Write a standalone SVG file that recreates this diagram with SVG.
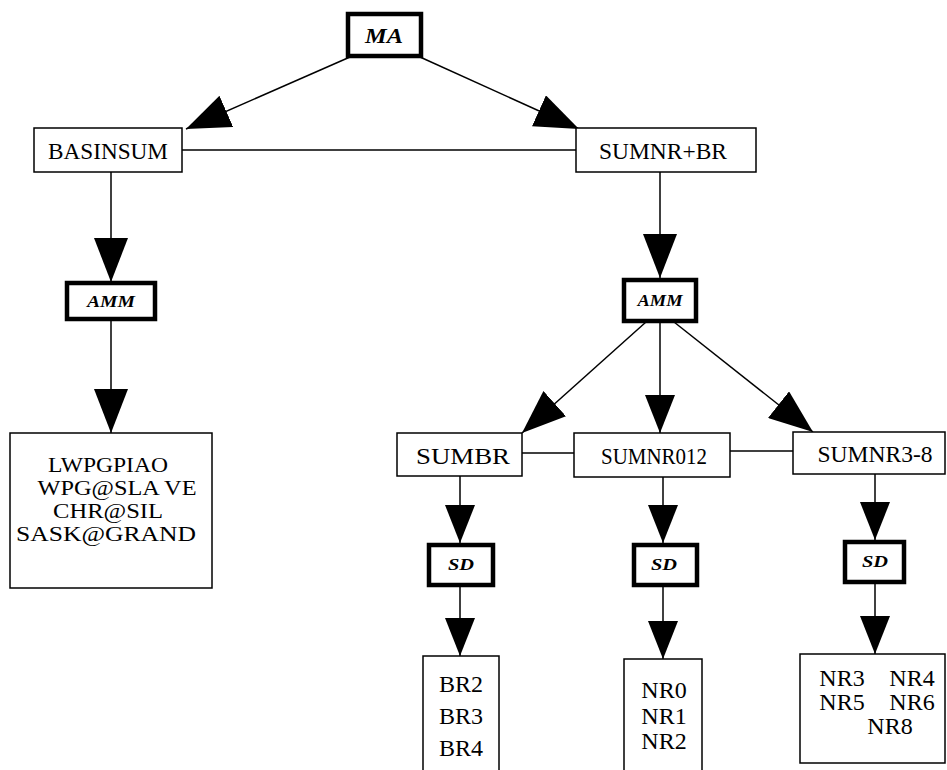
<svg xmlns="http://www.w3.org/2000/svg" width="947" height="770" viewBox="0 0 947 770">
<style>
.box{fill:#fff;stroke:#000;stroke-width:1.5}
.tbox{fill:#fff;stroke:#000;stroke-width:4.5}
.t{font-family:"Liberation Serif","Times New Roman",serif;font-size:24px;fill:#000;text-anchor:middle}
.s{font-size:20px}
.ti{font-family:"Liberation Serif","Times New Roman",serif;font-style:italic;font-weight:bold;fill:#000;text-anchor:middle}
.ln{stroke:#000;stroke-width:1.5;fill:none}
</style>
<defs>
<marker id="big" markerUnits="userSpaceOnUse" markerWidth="44" markerHeight="34" refX="44" refY="17" orient="auto" viewBox="0 0 44 34">
<path d="M0,0 L44,17 L0,34 z" fill="#000"/>
</marker>
<marker id="sm" markerUnits="userSpaceOnUse" markerWidth="38" markerHeight="30" refX="38" refY="15" orient="auto" viewBox="0 0 38 30">
<path d="M0,0 L38,15 L0,30 z" fill="#000"/>
</marker>
</defs>
<rect width="947" height="770" fill="#fff"/>
<g id="connectors">
<line class="ln" x1="350" y1="57" x2="186" y2="129" marker-end="url(#big)"/>
<line class="ln" x1="420" y1="57" x2="579" y2="129" marker-end="url(#big)"/>
<line class="ln" x1="182" y1="150" x2="576" y2="150"/>
<line class="ln" x1="111" y1="172" x2="111" y2="282" marker-end="url(#big)"/>
<line class="ln" x1="111" y1="320" x2="111" y2="433" marker-end="url(#big)"/>
<line class="ln" x1="660" y1="172" x2="660" y2="278" marker-end="url(#big)"/>
<line class="ln" x1="646" y1="322" x2="522" y2="433" marker-end="url(#big)"/>
<line class="ln" x1="660" y1="322" x2="660" y2="433" marker-end="url(#sm)"/>
<line class="ln" x1="674" y1="322" x2="813" y2="432" marker-end="url(#big)"/>
<line class="ln" x1="522" y1="453" x2="574" y2="453"/>
<line class="ln" x1="730" y1="451" x2="793" y2="451"/>
<line class="ln" x1="460" y1="476" x2="460" y2="543" marker-end="url(#sm)"/>
<line class="ln" x1="460" y1="585" x2="460" y2="656" marker-end="url(#sm)"/>
<line class="ln" x1="663" y1="477" x2="663" y2="543" marker-end="url(#sm)"/>
<line class="ln" x1="663" y1="585" x2="663" y2="659" marker-end="url(#sm)"/>
<line class="ln" x1="875" y1="474" x2="875" y2="540" marker-end="url(#sm)"/>
<line class="ln" x1="875" y1="583" x2="875" y2="654" marker-end="url(#sm)"/>
</g>
<g id="MA">
<rect class="tbox" x="348" y="14" width="73" height="42"/>
<text class="ti" x="384" y="43" font-size="21" textLength="38" lengthAdjust="spacingAndGlyphs">MA</text>
</g>
<g id="BASINSUM">
<rect class="box" x="34" y="128" width="148" height="44"/>
<text class="t" x="108" y="159" textLength="120" lengthAdjust="spacingAndGlyphs">BASINSUM</text>
</g>
<g id="SUMNR_BR">
<rect class="box" x="576" y="128" width="180" height="44"/>
<text class="t" x="663" y="159" textLength="128" lengthAdjust="spacingAndGlyphs">SUMNR+BR</text>
</g>
<g id="AMM_left">
<rect class="tbox" x="67" y="283" width="88" height="36"/>
<text class="ti" x="111" y="307" font-size="16" textLength="48" lengthAdjust="spacingAndGlyphs">AMM</text>
</g>
<g id="AMM_right">
<rect class="tbox" x="624" y="280" width="72" height="41"/>
<text class="ti" x="660" y="306" font-size="16" textLength="45" lengthAdjust="spacingAndGlyphs">AMM</text>
</g>
<g id="LWPG">
<rect class="box" x="10" y="433" width="202" height="155"/>
<text class="t s" x="108" y="472" textLength="120" lengthAdjust="spacingAndGlyphs">LWPGPIAO</text>
<text class="t s" x="117" y="495" textLength="159" lengthAdjust="spacingAndGlyphs">WPG@SLA VE</text>
<text class="t s" x="108" y="518" textLength="110" lengthAdjust="spacingAndGlyphs">CHR@SIL</text>
<text class="t s" x="106" y="541" textLength="180" lengthAdjust="spacingAndGlyphs">SASK@GRAND</text>
</g>
<g id="SUMBR">
<rect class="box" x="397" y="433" width="125" height="43"/>
<text class="t" x="463" y="464" textLength="94" lengthAdjust="spacingAndGlyphs">SUMBR</text>
</g>
<g id="SUMNR012">
<rect class="box" x="574" y="433" width="156" height="44"/>
<text class="t" x="654" y="464" textLength="106" lengthAdjust="spacingAndGlyphs">SUMNR012</text>
</g>
<g id="SUMNR3-8">
<rect class="box" x="793" y="432" width="152" height="42"/>
<text class="t" x="875" y="462" textLength="115" lengthAdjust="spacingAndGlyphs">SUMNR3-8</text>
</g>
<g id="SD1">
<rect class="tbox" x="429" y="545" width="64" height="40"/>
<text class="ti" x="461" y="570" font-size="16" textLength="26" lengthAdjust="spacingAndGlyphs">SD</text>
</g>
<g id="SD2">
<rect class="tbox" x="634" y="545" width="63" height="40"/>
<text class="ti" x="664" y="570" font-size="16" textLength="26" lengthAdjust="spacingAndGlyphs">SD</text>
</g>
<g id="SD3">
<rect class="tbox" x="845" y="542" width="59" height="40"/>
<text class="ti" x="875" y="567" font-size="16" textLength="26" lengthAdjust="spacingAndGlyphs">SD</text>
</g>
<g id="BR">
<rect class="box" x="423" y="656" width="76" height="130"/>
<text class="t" x="461" y="692">BR2</text>
<text class="t" x="461" y="724">BR3</text>
<text class="t" x="461" y="756">BR4</text>
</g>
<g id="NR">
<rect class="box" x="624" y="659" width="78" height="130"/>
<text class="t" x="664" y="698">NR0</text>
<text class="t" x="664" y="724">NR1</text>
<text class="t" x="664" y="749">NR2</text>
</g>
<g id="NR3-8">
<rect class="box" x="800" y="654" width="145" height="109"/>
<text class="t" x="842" y="686">NR3</text>
<text class="t" x="912" y="686">NR4</text>
<text class="t" x="842" y="710">NR5</text>
<text class="t" x="912" y="710">NR6</text>
<text class="t" x="890" y="734">NR8</text>
</g>
</svg>
